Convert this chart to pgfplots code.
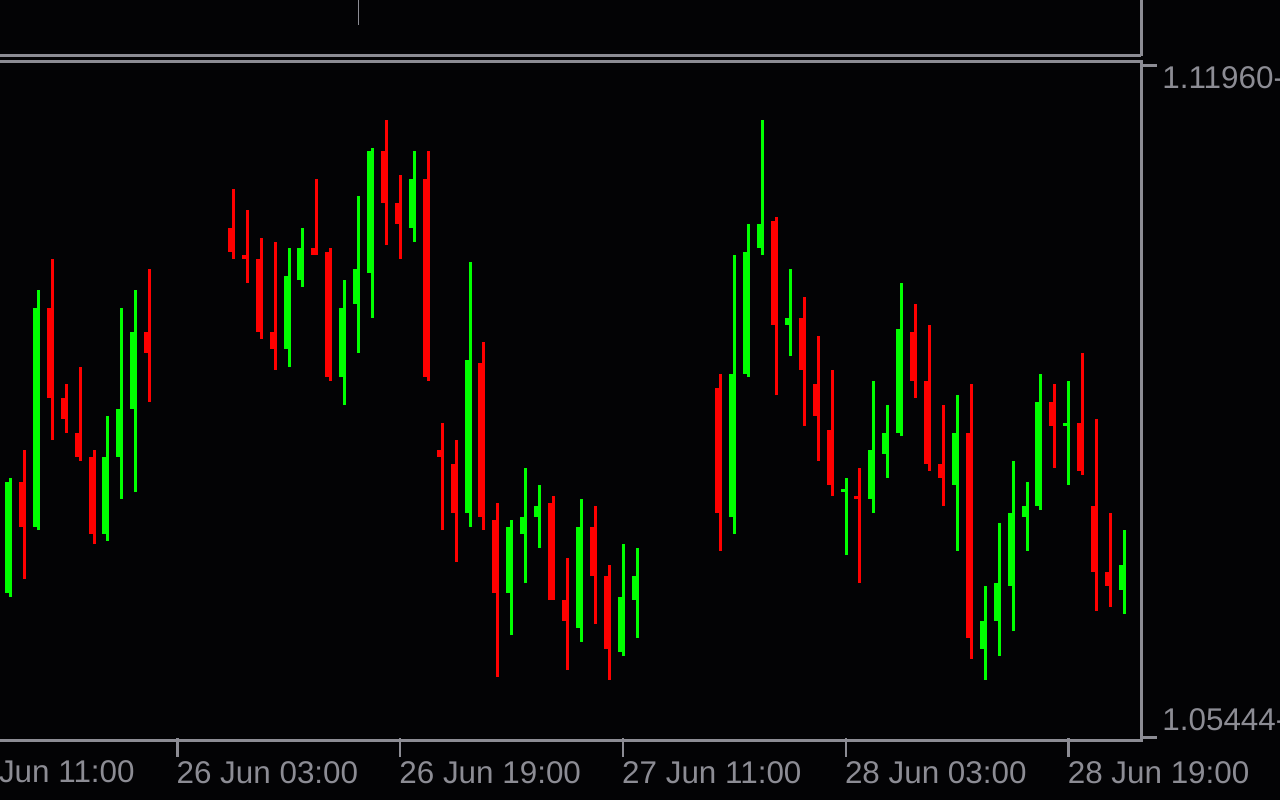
\documentclass[border=0pt]{standalone}
\usepackage{pgfplots}
\pgfplotsset{compat=1.18}
\usepackage{pgfplotstable}
\usepackage{fontspec}
\setmainfont{Liberation Sans}

\definecolor{bg}{RGB}{3,3,5}
\definecolor{frame}{RGB}{140,140,148}
\definecolor{bull}{RGB}{0,255,0}
\definecolor{bear}{RGB}{255,0,0}

% hourly candles, h = hours from 26 Jun 03:00
\pgfplotstableread{
h   open    high    low     close
-12 1.06736 1.07900 1.06695 1.07859
-10 1.07406 1.09808 1.07372 1.09626
-5  1.07332 1.08529 1.07261 1.08113
-4  1.08113 1.09626 1.07687 1.08600
-3  1.08600 1.09808 1.07758 1.09382
8   1.09209 1.10235 1.09027 1.09950
9   1.09910 1.10438 1.09839 1.10235
12  1.08925 1.09910 1.08641 1.09626
13  1.09666 1.10762 1.09169 1.10021
14  1.09981 1.11250 1.09524 1.11219
17  1.10438 1.11219 1.10295 1.10935
21  1.07545 1.10092 1.07403 1.09098
24  1.06733 1.07474 1.06306 1.07403
25  1.07332 1.08002 1.06834 1.07504
26  1.07504 1.07829 1.07190 1.07616
29  1.06378 1.07687 1.06235 1.07403
32  1.06134 1.07230 1.06093 1.06692
33  1.06662 1.07190 1.06276 1.06905
40  1.07504 1.10163 1.07332 1.08956
41  1.08956 1.10478 1.08925 1.10194
42  1.10235 1.11534 1.10163 1.10478
44  1.09453 1.10021 1.09138 1.09524
48  1.07758 1.07900 1.07118 1.07788
50  1.07687 1.08885 1.07545 1.08184
51  1.08144 1.08641 1.07900 1.08357
52  1.08357 1.09879 1.08326 1.09412
56  1.07829 1.08742 1.07159 1.08357
58  1.06164 1.06804 1.05850 1.06449
59  1.06449 1.07443 1.06093 1.06834
60  1.06804 1.08073 1.06347 1.07545
61  1.07504 1.07859 1.07159 1.07616
62  1.07616 1.08956 1.07575 1.08671
64  1.08428 1.08885 1.07829 1.08458
68  1.06763 1.07372 1.06520 1.07017
}\bulls

\pgfplotstableread{
h   open    high    low     close
-11 1.07859 1.08184 1.06878 1.07406
-9  1.09626 1.10123 1.08289 1.08715
-8  1.08715 1.08854 1.08357 1.08499
-7  1.08357 1.09027 1.08073 1.08113
-6  1.08113 1.08184 1.07230 1.07332
-2  1.09382 1.10021 1.08671 1.09169
4   1.10438 1.10833 1.10123 1.10194
5   1.10163 1.10620 1.09879 1.10123
6   1.10123 1.10336 1.09311 1.09382
7   1.09382 1.10295 1.08996 1.09209
10  1.10235 1.10935 1.10163 1.10163
11  1.10194 1.10235 1.08885 1.08925
15  1.11219 1.11534 1.10265 1.10691
16  1.10691 1.10975 1.10123 1.10478
18  1.10935 1.11219 1.08885 1.08925
19  1.08184 1.08458 1.07372 1.08113
20  1.08042 1.08286 1.07047 1.07545
22  1.09067 1.09280 1.07372 1.07504
23  1.07474 1.07646 1.05880 1.06733
27  1.07646 1.07717 1.06662 1.06662
28  1.06662 1.07088 1.05951 1.06449
30  1.07403 1.07616 1.06418 1.06905
31  1.06905 1.07017 1.05850 1.06164
39  1.08814 1.08956 1.07159 1.07545
43  1.10509 1.10549 1.08742 1.09453
45  1.09524 1.09737 1.08428 1.08996
46  1.08854 1.09341 1.08073 1.08529
47  1.08387 1.08996 1.07717 1.07829
49  1.07717 1.08002 1.06834 1.07687
53  1.09382 1.09666 1.08712 1.08885
54  1.08885 1.09453 1.07971 1.08042
55  1.08042 1.08641 1.07616 1.07900
57  1.08357 1.08854 1.06063 1.06276
63  1.08671 1.08854 1.08002 1.08428
65  1.08458 1.09169 1.07930 1.07971
66  1.07616 1.08499 1.06550 1.06946
67  1.06946 1.07545 1.06591 1.06804
}\bears

\begin{document}
\begin{tikzpicture}
\useasboundingbox (0,0) rectangle (640pt,400pt);
\clip (0,0) rectangle (640pt,400pt);
\fill[bg] (0,0) rectangle (640pt,400pt);

\begin{axis}[
    at={(0pt,31pt)}, anchor=south west,
    scale only axis, width=570.65pt, height=338pt,
    xmin=-12.61, xmax=69.35,
    ymin=1.05261, ymax=1.12122,
    axis line style={draw=none},
    tick align=outside,
    major tick length=9.35pt,
    xtick={0.13,16.13,32.13,48.13,64.13},
    xticklabels={26 Jun 03:00,26 Jun 19:00,27 Jun 11:00,28 Jun 03:00,28 Jun 19:00},
    xtick pos=bottom,
    x tick style={draw=frame, line width=1.2pt},
    xticklabel style={anchor=north west, inner sep=0pt, xshift=-0.6pt, yshift=-2pt},
    ytick={1.05444,1.11960},
    yticklabels={1.05444-,1.11960-},
    ytick pos=right,
    yticklabel pos=right,
    y tick style={draw=none},
    yticklabel style={anchor=west, inner sep=0pt, xshift=1pt},
    ticklabel style={font=\fontsize{15.7}{16}\selectfont, text=frame},
]
% wicks
\addplot[draw=none, mark=none, error bars/.cd, y dir=plus, y explicit,
    error mark=none, error bar style={draw=bull, line width=1.5pt}]
    table[x expr=\thisrow{h}+0.144, y=low, y error plus expr=\thisrow{high}-\thisrow{low}] {\bulls};
\addplot[draw=none, mark=none, error bars/.cd, y dir=plus, y explicit,
    error mark=none, error bar style={draw=bear, line width=1.5pt}]
    table[x expr=\thisrow{h}+0.144, y=low, y error plus expr=\thisrow{high}-\thisrow{low}] {\bears};
% bodies
\addplot[draw=none, mark=none, error bars/.cd, y dir=plus, y explicit,
    error mark=none, error bar style={draw=bull, line width=3.5pt}]
    table[x=h, y=open, y error plus expr=\thisrow{close}-\thisrow{open}] {\bulls};
\addplot[draw=none, mark=none, error bars/.cd, y dir=plus, y explicit,
    error mark=none, error bar style={draw=bear, line width=3.5pt}]
    table[x=h, y=close, y error plus expr=\thisrow{open}-\thisrow{close}] {\bears};
\end{axis}

% frame lines of the two panels
\draw[frame, line width=1.3pt] (0,372.35pt) -- (570.65pt,372.35pt);
\draw[frame, line width=1.5pt] (0,369pt) -- (570.65pt,369pt);
\draw[frame, line width=1.5pt] (570.65pt,400pt) -- (570.65pt,371.8pt);
\draw[frame, line width=1.5pt] (570.65pt,369.8pt) -- (570.65pt,31pt);
\draw[frame, line width=1.3pt] (0,29.75pt) -- (571.5pt,29.75pt);
\draw[frame, line width=1.3pt] (570pt,367.35pt) -- (578.5pt,367.35pt);
\draw[frame, line width=1.3pt] (570pt,31.15pt) -- (578.5pt,31.15pt);
\draw[frame, line width=0.75pt] (179.25pt,400pt) -- (179.25pt,387.25pt);
% first date label, its tick lies left of the picture
\node[anchor=north west, inner sep=0pt, text=frame, font=\fontsize{15.7}{16}\selectfont]
    at (-22.5pt,19.7pt) {25 Jun 11:00};
\end{tikzpicture}
\end{document}
